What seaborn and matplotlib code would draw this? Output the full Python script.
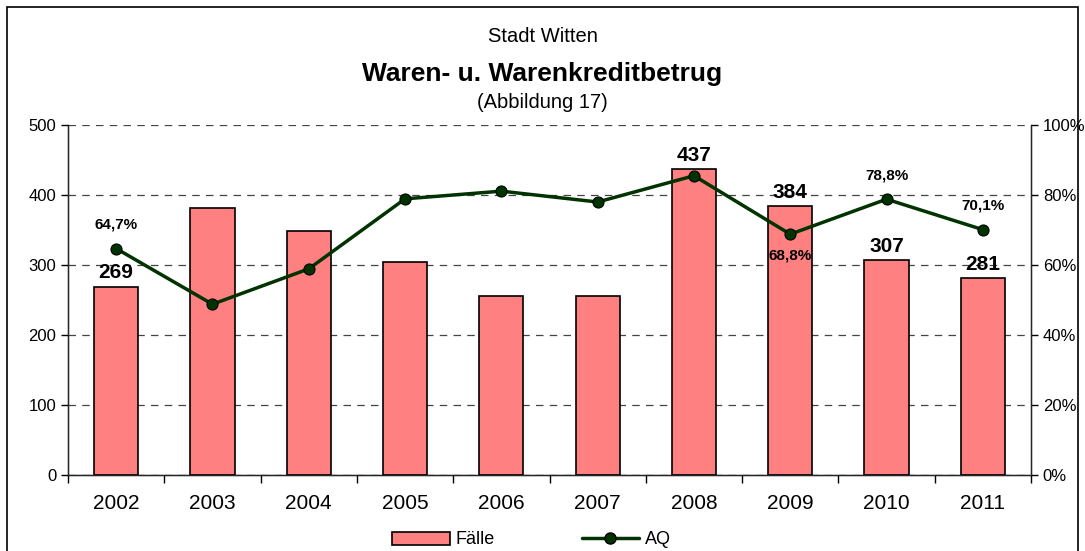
import numpy as np
import matplotlib
matplotlib.use("Agg")
import matplotlib.pyplot as plt
from matplotlib.patches import Rectangle, Patch
from matplotlib.lines import Line2D
import seaborn as sns

jahre = ["2002", "2003", "2004", "2005", "2006", "2007", "2008", "2009", "2010", "2011"]
faelle = [269, 381, 349, 304, 256, 256, 437, 384, 307, 281]
aq = [64.7, 48.8, 58.9, 78.9, 81.1, 78.0, 85.5, 68.8, 78.8, 70.1]

# welche Werte beschriftet werden
faelle_label = ["2002", "2008", "2009", "2010", "2011"]
aq_label = {"2002": "above", "2009": "below", "2010": "above", "2011": "above"}

sns.set_style("white")
plt.rcParams['font.family'] = ['Liberation Sans', 'DejaVu Sans']
plt.rcParams['text.color'] = "black"
plt.rcParams['xtick.color'] = "black"
plt.rcParams['ytick.color'] = "black"

bar_farbe = "#FF8080"
linie_farbe = "#003300"

fig = plt.figure(figsize=(10.85, 5.51), dpi=100)
ax = fig.add_axes([68 / 1085, 1 - 475 / 551, (1031 - 68) / 1085, 350 / 551])

sns.barplot(x=jahre, y=faelle, color=bar_farbe, edgecolor="black", linewidth=1.2,
            width=0.46, saturation=1, ax=ax)
ax.set_ylim(0, 500)
ax.set_xlim(-0.5, len(jahre) - 0.5)
ax.set_yticks(range(0, 501, 100))
ax.yaxis.grid(True, linestyle=(0, (6, 5)), color="#444444", linewidth=0.9)
ax.set_axisbelow(True)
ax.set_xlabel("")
ax.set_ylabel("")

for s in ["left", "right", "bottom"]:
    ax.spines[s].set_color("black")
    ax.spines[s].set_linewidth(1.0)
ax.spines["top"].set_visible(False)

ax.tick_params(axis="x", which="major", length=0, labelsize=15, pad=14)
ax.set_xticks(np.arange(-0.5, len(jahre)), minor=True)
ax.tick_params(axis="x", which="minor", length=6, width=1, direction="out", bottom=True)
ax.tick_params(axis="y", length=5, width=1, direction="out", labelsize=12, left=True)

for i, (j, v) in enumerate(zip(jahre, faelle)):
    if j in faelle_label:
        ax.text(i, v + 6, str(v), ha="center", va="bottom", fontsize=15, fontweight="bold")

ax2 = ax.twinx()
x = np.arange(len(jahre))
sns.lineplot(x=x, y=aq, color=linie_farbe, linewidth=2.5, marker="o", markersize=8,
             markeredgecolor="black", markerfacecolor=linie_farbe, ax=ax2)
ax2.set_ylim(0, 100)
ax2.set_yticks(range(0, 101, 20))
ax2.set_yticklabels([f"{t}%" for t in range(0, 101, 20)])
ax2.tick_params(axis="y", length=5, width=1, direction="out", labelsize=12, right=True)
ax2.spines["top"].set_visible(False)
ax2.set_xlim(-0.5, len(jahre) - 0.5)

for i, (j, v) in enumerate(zip(jahre, aq)):
    if j in aq_label:
        txt = f"{v:.1f}%".replace(".", ",")
        if aq_label[j] == "above":
            ax2.annotate(txt, (i, v), xytext=(0, 12), textcoords="offset points",
                         ha="center", va="bottom", fontsize=11, fontweight="bold")
        else:
            ax2.annotate(txt, (i, v), xytext=(0, -10), textcoords="offset points",
                         ha="center", va="top", fontsize=11, fontweight="bold")

fig.text(0.5, 1 - 36 / 551, "Stadt Witten", ha="center", va="center", fontsize=14.5)
fig.text(0.5, 1 - 74 / 551, "Waren- u. Warenkreditbetrug", ha="center", va="center",
         fontsize=19, fontweight="bold")
fig.text(0.5, 1 - 103 / 551, "(Abbildung 17)", ha="center", va="center", fontsize=14.5)

# Rahmen um das Diagramm
fig.patches.append(Rectangle((7 / 1085, -0.05), (1078 - 7) / 1085, 1 - 7 / 551 + 0.05,
                             transform=fig.transFigure, fill=False, edgecolor="black",
                             linewidth=1.2))

handles = [Patch(facecolor=bar_farbe, edgecolor="black", linewidth=1.2),
           Line2D([0], [0], color=linie_farbe, linewidth=2.5, marker="o", markersize=8,
                  markeredgecolor="black", markerfacecolor=linie_farbe)]
fig.legend(handles, ["Fälle", "AQ"], loc="center", bbox_to_anchor=(0.49, 1 - 540 / 551),
           ncol=2, frameon=False, fontsize=13, columnspacing=4.8, handlelength=3.2,
           handletextpad=0.3)

fig.savefig("out.png", dpi=100)
